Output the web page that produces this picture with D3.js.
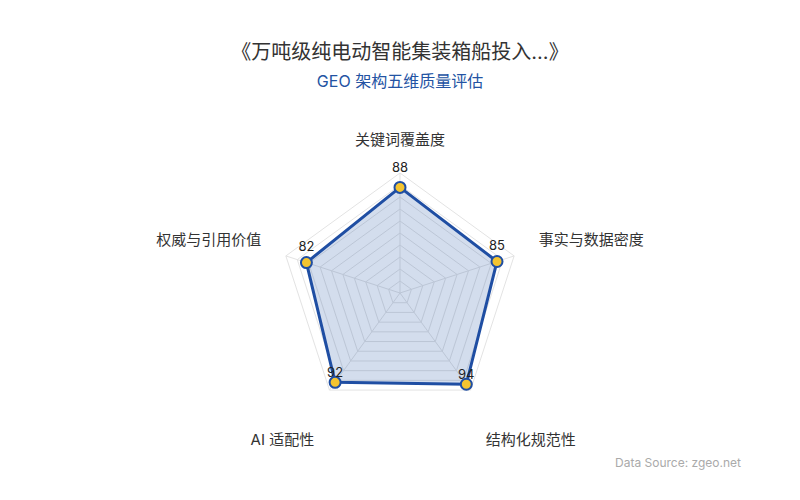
<!DOCTYPE html>
<html>
<head>
<meta charset="utf-8">
<script src="https://cdn.jsdelivr.net/npm/d3@7"></script>
<style>
  html, body { margin: 0; padding: 0; background: #fff; }
  svg { display: block; font-family: Inter, 'Noto Sans CJK SC', sans-serif; }
</style>
</head>
<body>
<div id="chart"></div>
<script>
'use strict';

// chart data
var indicators = ['关键词覆盖度', '事实与数据密度', '结构化规范性', 'AI 适配性', '权威与引用价值'];
var scores = [88, 85, 94, 92, 82];
var maxValue = 100;
var splitNumber = 10;

var titleText = '《万吨级纯电动智能集装箱船投入...》';
var subtitleText = 'GEO 架构五维质量评估';
var sourceText = 'Data Source: zgeo.net';

var width = 800,
    height = 500,
    cx = 400,
    cy = 293,
    radius = 120,
    nameRadius = 146;

var svg = d3.select('#chart').append('svg')
            .attr('width', width)
            .attr('height', height);

var r = d3.scaleLinear().domain([0, maxValue]).range([0, radius]);

var step = 2 * Math.PI / indicators.length;

// angle 0 = 12 o'clock, clockwise
function angleOf(i) {
    return i * step;
}

function pointAt(i, rad) {
    var a = angleOf(i);
    return [cx + rad * Math.sin(a), cy - rad * Math.cos(a)];
}

// titles
svg.append('text')
   .attr('x', width / 2)
   .attr('y', 52)
   .attr('text-anchor', 'middle')
   .attr('dominant-baseline', 'central')
   .attr('font-size', 20)
   .attr('fill', '#333')
   .text(titleText);

svg.append('text')
   .attr('x', width / 2)
   .attr('y', 81)
   .attr('text-anchor', 'middle')
   .attr('dominant-baseline', 'central')
   .attr('font-size', 16)
   .attr('fill', '#2353a3')
   .text(subtitleText);

var g = svg.append('g').attr('transform', 'translate(' + cx + ',' + cy + ')');

// grid rings
var ringLine = d3.lineRadial()
                 .angle(function (d, i) { return angleOf(i); })
                 .radius(function (d) { return r(d); })
                 .curve(d3.curveLinearClosed);

var levels = d3.range(1, splitNumber + 1).map(function (k) { return maxValue * k / splitNumber; });

g.selectAll('path.ring')
 .data(levels)
 .enter()
 .append('path')
 .attr('class', 'ring')
 .attr('d', function (lv) { return ringLine(indicators.map(function () { return lv; })); })
 .attr('fill', 'none')
 .attr('stroke', '#e3e3e3')
 .attr('stroke-width', 1);

// spokes
g.selectAll('line.spoke')
 .data(indicators)
 .enter()
 .append('line')
 .attr('class', 'spoke')
 .attr('x1', 0)
 .attr('y1', 0)
 .attr('x2', function (d, i) { return r(maxValue) * Math.sin(angleOf(i)); })
 .attr('y2', function (d, i) { return -r(maxValue) * Math.cos(angleOf(i)); })
 .attr('stroke', '#e3e3e3')
 .attr('stroke-width', 1);

// series area
g.append('path')
 .datum(scores)
 .attr('d', ringLine)
 .attr('fill', 'rgba(35, 83, 163, 0.2)')
 .attr('stroke', '#1f4ea3')
 .attr('stroke-width', 3)
 .attr('stroke-linejoin', 'round');

// points
g.selectAll('circle.pt')
 .data(scores)
 .enter()
 .append('circle')
 .attr('class', 'pt')
 .attr('cx', function (d, i) { return r(d) * Math.sin(angleOf(i)); })
 .attr('cy', function (d, i) { return -r(d) * Math.cos(angleOf(i)); })
 .attr('r', 5.5)
 .attr('fill', '#f4c430')
 .attr('stroke', '#1f4ea3')
 .attr('stroke-width', 2);

// value labels
g.selectAll('text.val')
 .data(scores)
 .enter()
 .append('text')
 .attr('class', 'val')
 .attr('x', function (d, i) { return r(d) * Math.sin(angleOf(i)); })
 .attr('y', function (d, i) {
     var up = Math.cos(angleOf(i));
     return -r(d) * up - (14.5 + 5.5 * up);
 })
 .attr('text-anchor', 'middle')
 .attr('dominant-baseline', 'central')
 .attr('font-size', 13)
 .attr('fill', '#222')
 .text(function (d) { return d; });

// indicator names
svg.selectAll('text.name')
   .data(indicators)
   .enter()
   .append('text')
   .attr('class', 'name')
   .attr('x', function (d, i) { return pointAt(i, nameRadius)[0]; })
   .attr('y', function (d, i) {
       var up = Math.cos(angleOf(i));
       return pointAt(i, nameRadius)[1] + (up > 0 ? -8 : 28);
   })
   .attr('text-anchor', function (d, i) {
       var s = Math.sin(angleOf(i));
       if (s > 0.1) return 'start';
       if (s < -0.1) return 'end';
       return 'middle';
   })
   .attr('dominant-baseline', 'central')
   .attr('font-size', 15)
   .attr('fill', '#333')
   .text(function (d) { return d; });

// source note
svg.append('text')
   .attr('x', 741)
   .attr('y', 462)
   .attr('text-anchor', 'end')
   .attr('dominant-baseline', 'central')
   .attr('font-size', 12)
   .attr('fill', '#aaa')
   .text(sourceText);
</script>
</body>
</html>
